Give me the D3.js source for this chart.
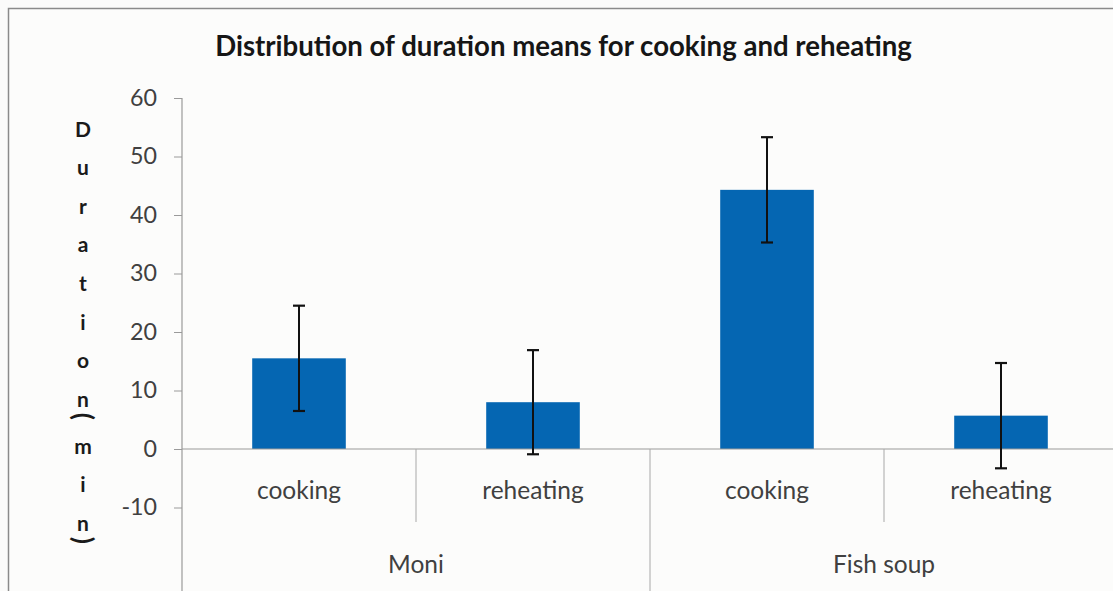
<!DOCTYPE html>
<html>
<head>
<meta charset="utf-8">
<script src="https://cdn.jsdelivr.net/npm/d3@7"></script>
<style>
  html, body { margin: 0; padding: 0; background: #fbfbfa; }
  svg { display: block; }
</style>
</head>
<body>
<script>
// ---- data ----
const titleText = "Distribution of duration means for cooking and reheating";
const groups = ["Moni", "Fish soup"];
const categories = ["cooking", "reheating", "cooking", "reheating"];
const categoryGroup = ["Moni", "Moni", "Fish soup", "Fish soup"];
const means = [15.5, 8.0, 44.3, 5.7];
const errors = [9.0, 8.9, 9.0, 9.0];
const yTicks = [-10, 0, 10, 20, 30, 40, 50, 60];
const yTitleChars = ["D","u","r","a","t","i","o","n","(","m","i","n",")"];

// ---- layout ----
const W = 1113, H = 591;
const plotLeft = 182, plotRight = 1118;
const yTop = 98, yZero = 449;
const fontFam = "Lato, 'Open Sans', sans-serif";

const svg = d3.select("body").append("svg").attr("width", W).attr("height", H);

// outer chart border
svg.append("rect").attr("x", 8.5).attr("y", 8.5).attr("width", W + 20).attr("height", H + 20)
  .attr("fill", "#fcfcfb").attr("stroke", "#8a8a8a").attr("stroke-width", 1.5);

const keys = d3.range(categories.length);
const x = d3.scaleBand().domain(keys).range([plotLeft, plotRight]).paddingInner(0.6).paddingOuter(0.3);
const slot = d3.scaleBand().domain(keys).range([plotLeft, plotRight]).padding(0);
const y = d3.scaleLinear().domain([0, 60]).range([yZero, yTop]);

function fit(sel, targetW) {
  const w = sel.node().getComputedTextLength();
  const fs = parseFloat(sel.attr("font-size"));
  sel.attr("font-size", fs * targetW / w);
  return fs * targetW / w;
}

// title
const t = svg.append("text").attr("x", 563.5).attr("y", 56).attr("text-anchor", "middle")
  .attr("font-family", fontFam).attr("font-weight", "bold").attr("font-size", 22)
  .attr("fill", "#161616").text(titleText);
fit(t, 697);

// y axis
const yAxis = d3.axisLeft(y).tickValues(yTicks).tickSize(8).tickPadding(17).tickFormat(d => String(d));
const ya = svg.append("g").attr("transform", `translate(${plotLeft},0)`).call(yAxis);
ya.select(".domain").remove();
ya.selectAll(".tick line").attr("stroke", "#9a9a9a");
ya.selectAll(".tick text").attr("font-family", fontFam).attr("font-size", 23).attr("fill", "#404040");
const t60 = ya.selectAll(".tick text").filter(d => d === 60);
const tickFs = fit(t60, 27);
ya.selectAll(".tick text").attr("font-size", tickFs);

// left axis line (extends through category area)
svg.append("line").attr("x1", plotLeft).attr("x2", plotLeft).attr("y1", y(60)).attr("y2", H + 5)
  .attr("stroke", "#9a9a9a").attr("stroke-width", 1.2);

// bars
svg.selectAll("rect.bar").data(keys).enter().append("rect").attr("class", "bar")
  .attr("x", i => x(i)).attr("width", x.bandwidth())
  .attr("y", i => y(Math.max(0, means[i]))).attr("height", i => Math.abs(y(means[i]) - y(0)))
  .attr("fill", "#0566b2");

// zero line
svg.append("line").attr("x1", plotLeft).attr("x2", W + 5).attr("y1", y(0)).attr("y2", y(0))
  .attr("stroke", "#9a9a9a").attr("stroke-width", 1.2);

// category dividers
keys.forEach(i => {
  if (i === 0) return;
  const xx = slot(i);
  const isGroupEdge = categoryGroup[i] !== categoryGroup[i - 1];
  svg.append("line").attr("x1", xx).attr("x2", xx).attr("y1", y(0))
    .attr("y2", isGroupEdge ? H + 5 : 522)
    .attr("stroke", "#a8a8a8").attr("stroke-width", 1);
});

// error bars
const eb = svg.selectAll("g.err").data(keys).enter().append("g").attr("class", "err");
eb.append("line").attr("x1", i => x(i) + x.bandwidth() / 2).attr("x2", i => x(i) + x.bandwidth() / 2)
  .attr("y1", i => y(means[i] + errors[i])).attr("y2", i => y(means[i] - errors[i]))
  .attr("stroke", "#111").attr("stroke-width", 2);
[1, -1].forEach(s => {
  eb.append("line").attr("x1", i => x(i) + x.bandwidth() / 2 - 6).attr("x2", i => x(i) + x.bandwidth() / 2 + 6)
    .attr("y1", i => y(means[i] + s * errors[i])).attr("y2", i => y(means[i] + s * errors[i]))
    .attr("stroke", "#111").attr("stroke-width", 2.2);
});

// category labels
const cl = svg.selectAll("text.cat").data(keys).enter().append("text").attr("class", "cat")
  .attr("x", i => slot(i) + slot.bandwidth() / 2).attr("y", 499).attr("text-anchor", "middle")
  .attr("font-family", fontFam).attr("font-size", 23).attr("fill", "#404040")
  .text(i => categories[i]);
const catFs = fit(cl.filter(i => i === 0), 84);
cl.attr("font-size", catFs);

// group labels
groups.forEach(g => {
  const idx = keys.filter(i => categoryGroup[i] === g);
  const x0 = slot(idx[0]), x1 = slot(idx[idx.length - 1]) + slot.bandwidth();
  svg.append("text").attr("x", (x0 + x1) / 2).attr("y", 573).attr("text-anchor", "middle")
    .attr("font-family", fontFam).attr("font-size", catFs).attr("fill", "#404040").text(g);
});

// stacked y-axis title (parentheses rotated as in the original)
let cy = 129;
yTitleChars.forEach((c, k) => {
  const isParen = c === "(" || c === ")";
  if (k > 0) {
    const prevParen = yTitleChars[k - 1] === "(" || yTitleChars[k - 1] === ")";
    cy += isParen ? 17 : (prevParen ? 30 : 38.6);
  }
  const g = svg.append("g").attr("transform", `translate(83,${cy})` + (isParen ? " rotate(90)" : ""));
  g.append("text").attr("x", 0).attr("y", 0).attr("text-anchor", "middle")
    .attr("dy", isParen ? "0.33em" : "0.36em")
    .attr("font-family", fontFam).attr("font-weight", "bold").attr("font-size", isParen ? 26 : 21)
    .attr("fill", "#1a1a1a").text(c);
});
</script>
</body>
</html>
